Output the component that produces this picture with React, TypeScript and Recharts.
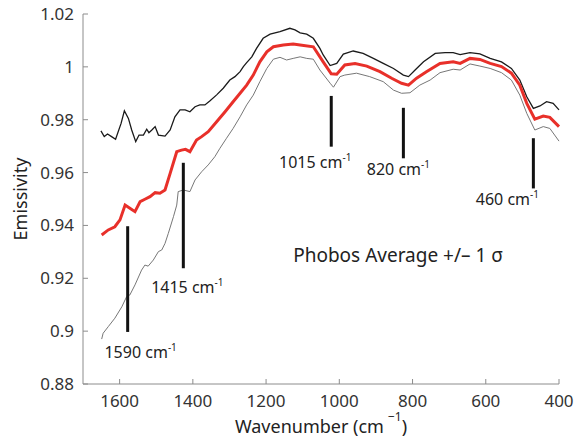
import { LineChart, Line, XAxis, YAxis, ReferenceLine, ReferenceDot } from "recharts";

const FONT = "'Noto Sans', 'Open Sans', sans-serif";

// Phobos average spectrum +/- 1 sigma
const upperWn = [
  1651, 1642, 1633, 1622, 1611, 1596, 1587, 1576, 1567, 1556, 1547, 1535, 1526, 1520, 1512, 1503,
  1494, 1476, 1462, 1449, 1435, 1421, 1408, 1394, 1381, 1367, 1353, 1335, 1317, 1299, 1285, 1271,
  1262, 1253, 1239, 1226, 1208, 1189, 1162, 1135, 1121, 1107, 1089, 1071, 1053, 1044, 1025, 1007,
  989, 962, 935, 907, 880, 852, 825, 811, 793, 770, 738, 711, 689, 670, 643, 616, 588, 557, 530,
  507, 488, 470, 452, 434, 416, 400,
];
const upperVal = [
  0.9758, 0.9736, 0.9746, 0.9736, 0.9726, 0.9786, 0.9834, 0.9805, 0.9761, 0.9717, 0.9742, 0.9742,
  0.9764, 0.9751, 0.9761, 0.9774, 0.9742, 0.9738, 0.9761, 0.9811, 0.9837, 0.9837, 0.983, 0.9849,
  0.9856, 0.9856, 0.9872, 0.9894, 0.9919, 0.995, 0.9963, 0.9982, 1.0001, 1.0016, 1.0038, 1.007,
  1.0108, 1.0124, 1.0133, 1.0146, 1.014, 1.0129, 1.0124, 1.0108, 1.007, 1.0045, 1.0005, 1.0013,
  1.0048, 1.006, 1.0051, 1.0032, 1.0013, 0.9994, 0.9969, 0.9963, 0.9988, 1.0019, 1.0051, 1.0054,
  1.0054, 1.0046, 1.0054, 1.0049, 1.0032, 1.0019, 0.9994, 0.995, 0.9887, 0.9843, 0.9852, 0.9868,
  0.9862, 0.9837,
];

const meanWn = [
  1649, 1631, 1613, 1599, 1585, 1572, 1558, 1544, 1531, 1517, 1503, 1490, 1476, 1462, 1444, 1431,
  1420, 1408, 1390, 1376, 1358, 1335, 1312, 1290, 1271, 1253, 1235, 1217, 1198, 1180, 1153, 1126,
  1107, 1071, 1044, 1022, 1007, 985, 957, 925, 889, 857, 830, 811, 789, 761, 725, 689, 670, 643,
  616, 588, 557, 530, 507, 488, 466, 443, 425, 400,
];
const meanVal = [
  0.9364, 0.9383, 0.9395, 0.9421, 0.9477, 0.9465, 0.9452, 0.949, 0.9499, 0.9509, 0.9524, 0.9522,
  0.9534, 0.9597, 0.9679, 0.9685, 0.9688, 0.9679, 0.9723, 0.9736, 0.9755, 0.9792, 0.983, 0.9868,
  0.99, 0.9931, 0.9969, 1.0019, 1.0057, 1.0076, 1.0083, 1.0086, 1.0083, 1.0076, 1.0019, 0.9974,
  0.9972, 1.0007, 1.0013, 1.0003, 0.9982, 0.9957, 0.9938, 0.9931, 0.9957, 0.9982, 1.0013, 1.0019,
  1.0013, 1.0032, 1.0028, 1.0013, 1.0001, 0.9976, 0.9931, 0.9862, 0.9802, 0.9814, 0.9809, 0.9774,
];

const lowerWn = [
  1649, 1645, 1631, 1613, 1594, 1581, 1572, 1558, 1540, 1531, 1522, 1508, 1494, 1485, 1476, 1467,
  1453, 1444, 1440, 1426, 1408, 1394, 1376, 1358, 1340, 1326, 1308, 1290, 1271, 1253, 1235, 1217,
  1198, 1180, 1162, 1144, 1126, 1107, 1089, 1071, 1053, 1025, 1016, 998, 985, 953, 917, 880, 852,
  830, 807, 780, 752, 725, 689, 670, 643, 616, 588, 557, 530, 507, 488, 466, 443, 425, 400,
];
const lowerVal = [
  0.897, 0.8992, 0.9017, 0.9049, 0.9092, 0.913, 0.9137, 0.9175, 0.9231, 0.925, 0.9246, 0.9269,
  0.9301, 0.9307, 0.9332, 0.937, 0.9433, 0.9477, 0.9528, 0.9534, 0.9528, 0.9572, 0.9603, 0.9629,
  0.966, 0.9692, 0.973, 0.9767, 0.9811, 0.9856, 0.9893, 0.9944, 0.9994, 1.0029, 1.0036, 1.0026,
  1.0032, 1.0038, 1.0032, 1.0029, 0.9988, 0.9938, 0.9923, 0.9963, 0.9969, 0.9976, 0.9963, 0.9944,
  0.9912, 0.99, 0.9902, 0.9931, 0.995, 0.9978, 0.9991, 0.9988, 1.0011, 1.0003, 0.9994, 0.9978,
  0.995, 0.9893, 0.9824, 0.9761, 0.9774, 0.9767, 0.9719,
];

const xTicks = [1600, 1400, 1200, 1000, 800, 600, 400];
const yTicks = [0.88, 0.9, 0.92, 0.94, 0.96, 0.98, 1, 1.02];

// absorption features marked on the plot
const peakNames = ["1590", "1415", "1015", "820", "460"];
const peakWn = [1578, 1426, 1022, 825, 470];
const peakTop = [0.9397, 0.9637, 0.989, 0.9845, 0.973];
const peakBottom = [0.8997, 0.9238, 0.9698, 0.9654, 0.954];

const toSeries = (wn: number[], val: number[]) => wn.map((w, i) => ({ wn: w, v: val[i] }));
const upper = toSeries(upperWn, upperVal);
const mean = toSeries(meanWn, meanVal);
const lower = toSeries(lowerWn, lowerVal);

// label offsets in px relative to the bottom of each marker line
const labelShift = [
  [13, 26],
  [4, 25],
  [-16, 21],
  [-5, 17],
  [-26, 17],
];

const PeakLabel = (props: any) => {
  const { viewBox, name, dx, dy } = props;
  return (
    <text
      x={viewBox.x + dx}
      y={viewBox.y + viewBox.height + dy}
      textAnchor="middle"
      fill="#222"
      fontSize={16}
      fontFamily={FONT}
    >
      {name} cm
      <tspan fontSize={10} dy={-7}>
        -1
      </tspan>
    </text>
  );
};

const CaptionLabel = (props: any) => (
  <text x={props.viewBox.x} y={props.viewBox.y} fill="#222" fontSize={19} fontFamily={FONT}>
    Phobos Average +/– 1 σ
  </text>
);

const XTitle = (props: any) => {
  const { viewBox } = props;
  return (
    <text
      x={viewBox.x + viewBox.width / 2}
      y={viewBox.y + 49}
      textAnchor="middle"
      fill="#222"
      fontSize={18}
      fontFamily={FONT}
    >
      Wavenumber (cm
      <tspan fontSize={12} dx={4} dy={-12}>
        −1
      </tspan>
      <tspan dy={12}>)</tspan>
    </text>
  );
};

const YTitle = (props: any) => {
  const { viewBox } = props;
  const cx = viewBox.x + 20;
  const cy = viewBox.y + viewBox.height / 2;
  return (
    <text
      x={cx}
      y={cy}
      transform={`rotate(-90, ${cx}, ${cy})`}
      textAnchor="middle"
      dominantBaseline="central"
      fill="#222"
      fontSize={18}
      fontFamily={FONT}
    >
      Emissivity
    </text>
  );
};

const axisColor = "#8c8c8c";
const tickStyle = { fill: "#333", fontSize: 17, fontFamily: FONT };

export default function App() {
  return (
    <div style={{ position: "absolute", left: 0, top: 0, background: "#fff" }}>
      <LineChart width={575} height={439} margin={{ top: 14, right: 16, bottom: 0, left: 0 }}>
        <XAxis
          dataKey="wn"
          type="number"
          domain={[400, 1700]}
          reversed
          ticks={xTicks}
          height={55}
          stroke={axisColor}
          tickSize={-5}
          tickMargin={16}
          tick={tickStyle}
          label={<XTitle />}
        />
        <XAxis
          xAxisId="top"
          orientation="top"
          dataKey="wn"
          type="number"
          domain={[400, 1700]}
          reversed
          ticks={xTicks}
          height={0}
          stroke={axisColor}
          tickSize={-5}
          tick={() => <g />}
        />
        <YAxis
          type="number"
          domain={[0.88, 1.02]}
          ticks={yTicks}
          width={83}
          stroke={axisColor}
          tickSize={-5}
          tickMargin={14}
          tick={tickStyle}
          label={<YTitle />}
        />
        <YAxis
          yAxisId="right"
          orientation="right"
          type="number"
          domain={[0.88, 1.02]}
          ticks={yTicks}
          width={0}
          stroke={axisColor}
          tickSize={-5}
          tick={() => <g />}
        />
        <Line
          data={lower}
          dataKey="v"
          type="linear"
          stroke="#777"
          strokeWidth={1}
          dot={false}
          isAnimationActive={false}
        />
        <Line
          data={upper}
          dataKey="v"
          type="linear"
          stroke="#1a1a1a"
          strokeWidth={1.3}
          dot={false}
          isAnimationActive={false}
        />
        <Line
          data={mean}
          dataKey="v"
          type="linear"
          stroke="#e8302a"
          strokeWidth={3}
          dot={false}
          isAnimationActive={false}
        />
        {peakWn.map((w, i) => (
          <ReferenceLine
            key={peakNames[i]}
            segment={[
              { x: w, y: peakBottom[i] },
              { x: w, y: peakTop[i] },
            ]}
            stroke="#111"
            strokeWidth={3}
            label={<PeakLabel name={peakNames[i]} dx={labelShift[i][0]} dy={labelShift[i][1]} />}
          />
        ))}
        <ReferenceDot
          x={1126}
          y={0.9262}
          r={0}
          fill="none"
          stroke="none"
          label={<CaptionLabel />}
        />
      </LineChart>
    </div>
  );
}
